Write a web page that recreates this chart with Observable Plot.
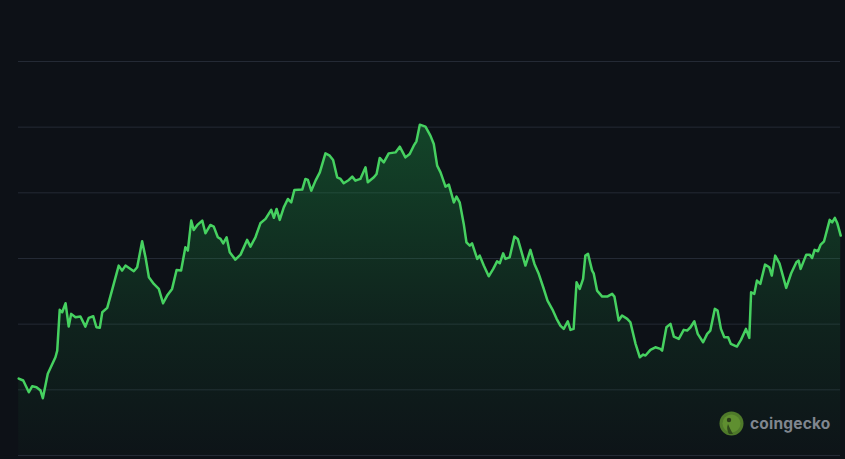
<!DOCTYPE html>
<html>
<head>
<meta charset="utf-8">
<script src="https://cdn.jsdelivr.net/npm/d3@7"></script>
<script src="https://cdn.jsdelivr.net/npm/@observablehq/plot@0.6"></script>
<style>
  html, body { margin: 0; padding: 0; background: #0d1117; }
  #wrap { position: relative; width: 845px; height: 459px; overflow: hidden; }
  #mark { position: absolute; left: 719px; top: 411px; display: flex; align-items: center; gap: 6px;
          font-family: "Inter", "Noto Sans", sans-serif; font-weight: 700; font-size: 15.5px; color: #80868f; letter-spacing: 0.2px; }
</style>
</head>
<body>
<div id="wrap">
  <div id="chart"></div>
  <div id="mark">
    <svg width="25" height="25" viewBox="0 0 25 25"><circle cx="12.5" cy="12.5" r="12" fill="#4f7a2a"/><circle cx="12.5" cy="12.5" r="9" fill="#5f8f30"/><circle cx="10" cy="9" r="2.2" fill="#2b3d1a"/><path d="M9 13 Q12 20 14 23 L10 23 Q7 18 9 13Z" fill="#2f4a1c"/></svg>
    <span>coingecko</span>
  </div>
</div>
<script>
const days = [0.1,2.1,4.6,6.1,8.0,9.8,10.8,13.0,16.4,17.2,18.3,19.4,20.9,22.3,23.4,25.3,27.5,29.7,31.2,33.2,34.6,36.1,37.2,39.4,42.3,44.5,46.0,47.5,51.2,52.7,54.9,56.4,
  57.9,60.1,62.3,64.2,66.0,68.2,70.2,72.2,74.1,75.2,76.7,77.8,79.6,81.6,83.0,85.2,86.7,88.5,89.7,90.9,92.4,93.8,96.3,98.6,101.5,103.0,105.2,107.4,109.7,112.2,113.4,114.6,116.0,
  117.8,119.6,121.1,122.5,126.0,127.4,128.5,130.0,131.9,133.8,136.3,138.2,139.7,141.5,143.0,144.4,146.7,148.2,149.6,151.8,154.1,155.1,157.8,159.0,160.4,162.2,164.4,167.4,169.3,171.8,173.7,175.5,176.7,178.2,
  180.7,182.9,184.4,185.9,187.4,189.6,191.1,193.3,194.5,195.9,197.7,198.9,200.4,201.4,203.7,204.8,206.6,208.8,210.8,212.5,213.7,215.2,216.2,218.1,220.2,221.7,223.2,225.1,227.3,229.1,231.0,233.0,234.9,237.1,238.9,
  240.6,242.1,243.9,245.1,246.5,247.8,249.2,250.7,251.7,252.9,254.7,255.4,256.9,259.2,261.4,263.6,264.6,266.5,268.0,270.3,271.7,274.0,275.9,277.4,278.4,280.6,282.8,285.0,285.8,287.7,289.5,291.0,293.2,295.4,296.9,298.4,300.1,301.6,304.0,305.8,307.2,
  309.2,310.4,311.9,313.4,315.1,316.3,319.0,320.8,323.0,324.5,325.3,326.7,327.9,329.4,331.5,333.4,334.5,336.0,337.9,340.9,343.1,345.4,346.4,347.3,349.8,351.3,352.4,353.5,355.0,356.2,357.7,360.2,361.3,362.5,363.6,365.1];
const prices = [1.172,1.142,0.963,1.055,1.040,0.989,0.872,1.244,1.496,1.598,2.218,2.181,2.318,1.963,2.157,2.105,2.116,1.963,2.096,2.120,1.953,1.944,2.181,2.248,2.613,2.892,2.816,2.892,2.805,2.866,3.262,3.018,
  2.714,2.613,2.537,2.318,2.435,2.537,2.826,2.816,3.170,3.120,3.577,3.435,3.516,3.577,3.384,3.511,3.486,3.323,3.298,3.231,3.323,3.094,2.983,3.059,3.283,3.181,3.323,3.536,3.603,3.740,3.620,3.755,3.588,
  3.779,3.907,3.855,4.044,4.049,4.212,4.196,4.033,4.186,4.312,4.601,4.566,4.501,4.236,4.212,4.145,4.196,4.247,4.186,4.212,4.388,4.160,4.236,4.288,4.531,4.464,4.601,4.616,4.703,4.540,4.592,4.718,4.784,5.038,
  5.008,4.871,4.744,4.414,4.312,4.094,4.125,3.855,3.942,3.855,3.527,3.247,3.196,3.231,2.994,3.044,2.892,2.729,2.842,2.957,2.927,3.079,2.994,3.018,3.333,3.298,3.120,2.892,3.131,2.918,2.766,2.562,2.359,2.222,2.085,
  1.979,1.928,2.044,1.913,1.928,2.638,2.537,2.689,3.044,3.070,2.816,2.775,2.511,2.420,2.420,2.461,2.420,2.055,2.131,2.081,2.029,1.700,1.496,1.537,1.522,1.609,1.648,1.624,1.598,1.953,2.005,1.811,1.776,1.913,1.903,1.953,2.044,1.852,1.725,1.852,1.903,
  2.233,2.207,1.928,1.801,1.801,1.700,1.659,1.761,1.928,1.791,2.486,2.461,2.664,2.613,2.907,2.866,2.740,3.044,2.927,2.553,2.775,2.942,2.968,2.842,3.059,3.059,3.009,3.131,3.110,3.212,3.262,3.588,3.551,3.618,3.536,3.349];
const gridTicks = [0, 1, 2, 3, 4, 5, 6];

const data = days.map((d, i) => ({day: d, price: prices[i]}));

const chart = Plot.plot({
  width: 845,
  height: 459,
  marginTop: 61,
  marginBottom: 4,
  marginLeft: 18,
  marginRight: 5,
  style: {background: "#0d1117"},
  x: {domain: [0, 365], axis: null},
  y: {domain: [0, 6], axis: null},
  marks: [
    Plot.gridY(gridTicks, {stroke: "#242a35", strokeOpacity: 1, strokeWidth: 1}),
    Plot.areaY(data, {x: "day", y: "price", fill: "url(#areaGrad)"}),
    Plot.lineY(data, {x: "day", y: "price", stroke: "#46d160", strokeWidth: 2.5, strokeLinejoin: "round"})
  ]
});

const ns = "http://www.w3.org/2000/svg";
const defs = document.createElementNS(ns, "defs");
defs.innerHTML = `<linearGradient id="areaGrad" x1="0" y1="0" x2="0" y2="1">
  <stop offset="0" stop-color="#1fa54a" stop-opacity="0.35"/>
  <stop offset="0.6" stop-color="#1fa54a" stop-opacity="0.12"/>
  <stop offset="1" stop-color="#1fa54a" stop-opacity="0.02"/>
</linearGradient>`;
chart.insertBefore(defs, chart.firstChild);
document.getElementById("chart").appendChild(chart);
</script>
</body>
</html>
